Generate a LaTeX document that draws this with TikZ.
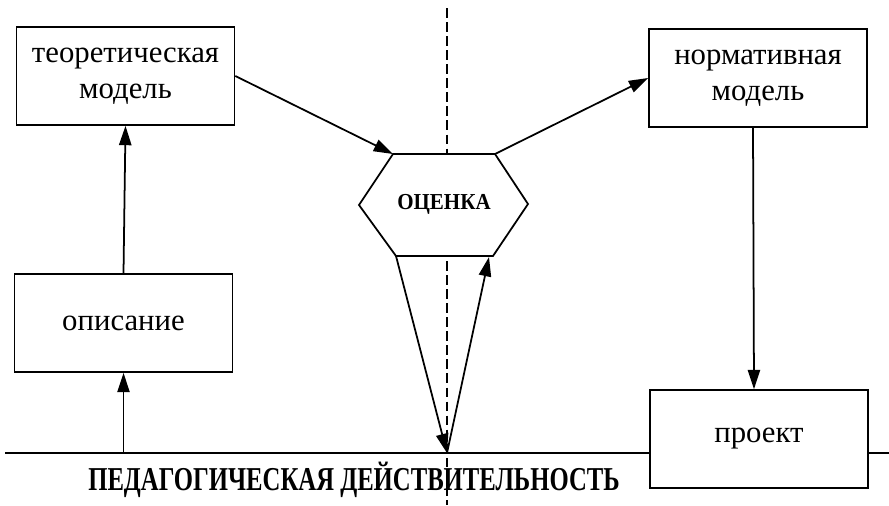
\documentclass[tikz,border=0pt]{standalone}
\usepackage{fontspec}
\setmainfont{Liberation Serif}
\usetikzlibrary{arrows.meta, positioning, calc}

\begin{document}
\begin{tikzpicture}[x=0.02cm, y=-0.02cm,
    box/.style={draw, line width=1pt, fill=white, minimum width=4.36cm, minimum height=1.96cm,
        align=center, font=\fontsize{17.5}{20.5}\selectfont},
    arr/.style={line width=1pt, -{Triangle[length=11pt, width=7pt]}}]
    \useasboundingbox (0,0) rectangle (889,505);

    % dashed axis and ground line
    \coordinate (dtop) at (447,8);
    \coordinate (dbot) at (447,505);
    \coordinate (gleft) at (5,453);
    \coordinate (gright) at (889,453);
    \coordinate (apex) at (447,453);
    \draw[line width=1pt, dash pattern=on 5.5pt off 2.5pt] (dtop) -- (dbot);
    \draw[line width=1pt] (gleft) -- (gright);

    % boxes
    \node[box] (theory) at (125.5,76) {теоретическая\\модель};
    \node[box] (norm) at (758,78) {нормативная\\модель};
    \node[box] (descr) at (123.5,323) {описание};
    \node[box] (proj) at (759,439) {проект};

    % hexagon
    \coordinate (hw) at (359,205);
    \coordinate (hnw) at (393,154);
    \coordinate (hne) at (495,154);
    \coordinate (he) at (528,204);
    \coordinate (hse) at (493,256);
    \coordinate (hsw) at (396,256);
    \draw[line width=1pt, fill=white] (hw) -- (hnw) -- (hne) -- (he) -- (hse) -- (hsw) -- cycle;
    \node[font=\fontsize{13}{15}\bfseries\selectfont, anchor=base] (eval) at (444,209)
        {\scalebox{0.92}[1]{ОЦЕНКА}};

    % ground label
    \node[font=\fontsize{19}{22}\bfseries\selectfont, anchor=base] (reality) at (354,490)
        {\scalebox{0.74}[1]{ПЕДАГОГИЧЕСКАЯ ДЕЙСТВИТЕЛЬНОСТЬ}};

    % arrows
    \coordinate (gdescr) at (descr.south |- apex);
    \draw[arr] (gdescr) -- (descr.south);
    \draw[arr] (descr.north) -- (theory.south);
    \draw[arr] (theory.east) -- (hnw);
    \draw[arr] (hne) -- (norm.west);
    \draw[arr] ([xshift=-0.1cm]norm.south) -- ([xshift=-0.1cm]proj.north);
    \draw[arr] (hsw) -- (apex);
    \draw[arr] (apex) -- ($(hse)+(-4,1)$);
\end{tikzpicture}
\end{document}
